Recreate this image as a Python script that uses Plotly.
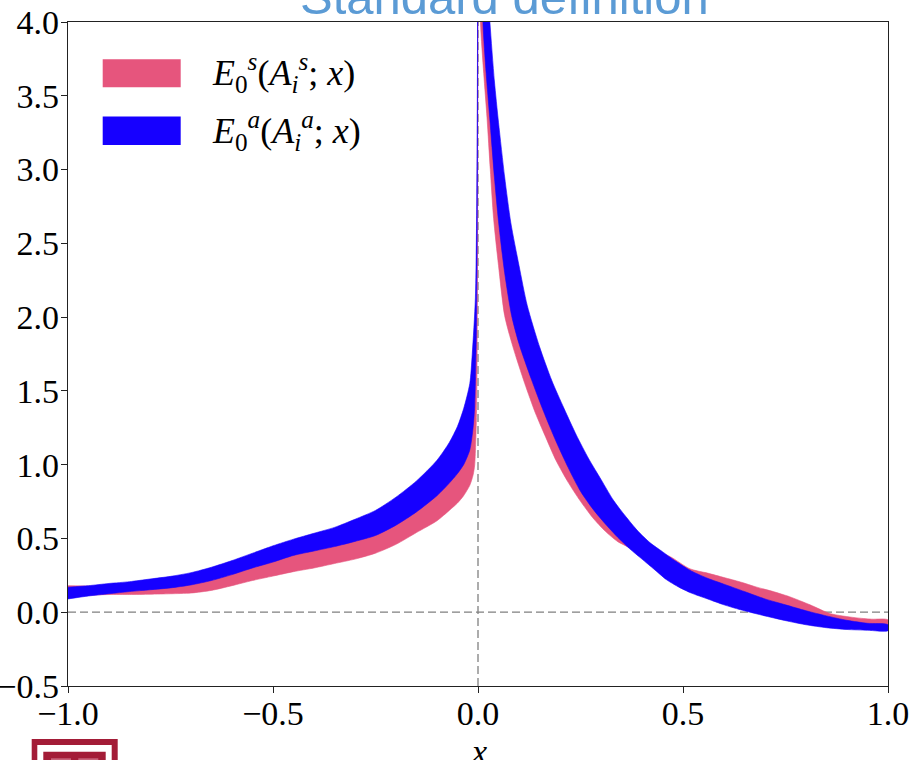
import plotly.graph_objects as go

# ---------------- data ----------------
# E0^s band (pink), x < 0
sym_left_upper_x = [-1.0, -0.95, -0.9, -0.8, -0.7, -0.6, -0.5, -0.4, -0.3, -0.2, -0.1,
                    -0.05, -0.02, -0.008, -0.004, -0.002, -0.0002]
sym_left_upper_y = [0.18, 0.178, 0.17, 0.17, 0.2, 0.27, 0.355, 0.43, 0.5, 0.62, 0.83,
                    1.0, 1.2, 1.55, 2.0, 2.7, 5.5]
sym_left_lower_x = [-1.0, -0.95, -0.9, -0.85, -0.8, -0.75, -0.7, -0.65, -0.6, -0.55, -0.5,
                    -0.45, -0.4, -0.35, -0.3, -0.25, -0.2, -0.15, -0.1, -0.07, -0.05,
                    -0.035, -0.02, -0.012, -0.008, -0.004, -0.002, -0.001, -0.0002]
sym_left_lower_y = [0.11, 0.115, 0.12, 0.12, 0.122, 0.125, 0.13, 0.148, 0.18, 0.215, 0.245,
                    0.275, 0.30, 0.33, 0.36, 0.40, 0.46, 0.54, 0.62, 0.69, 0.74,
                    0.79, 0.86, 0.93, 1.0, 1.3, 1.8, 2.6, 5.0]

# E0^s band (pink), x > 0
sym_right_upper_x = [0.004, 0.02, 0.035, 0.06, 0.1, 0.15, 0.2, 0.25, 0.3, 0.35, 0.4, 0.44,
                     0.47, 0.517, 0.56, 0.6, 0.64, 0.68, 0.72, 0.76, 0.81, 0.86, 0.92,
                     0.96, 1.0]
sym_right_upper_y = [6.0, 4.3, 3.6, 2.95, 2.2, 1.68, 1.32, 1.03, 0.8, 0.6, 0.47, 0.41,
                     0.375, 0.294, 0.265, 0.235, 0.205, 0.17, 0.14, 0.105, 0.05, -0.01, -0.037,
                     -0.047, -0.052]
sym_right_lower_x = [0.004, 0.006, 0.014, 0.022, 0.03, 0.038, 0.05, 0.065, 0.085, 0.114,
                     0.14, 0.163, 0.19, 0.22, 0.248, 0.28, 0.31, 0.34, 0.38, 0.45, 0.52,
                     0.6, 0.68, 0.76, 0.85, 0.93, 1.0]
sym_right_lower_y = [4.7, 4.0, 3.65, 3.35, 3.0, 2.67, 2.35, 2.01, 1.8, 1.55,
                     1.35, 1.2, 1.03, 0.88, 0.76, 0.64, 0.55, 0.48, 0.42, 0.25, 0.15,
                     0.06, 0.0, -0.05, -0.095, -0.105, -0.11]

# E0^a band (blue), x < 0
asym_left_upper_x = [-1.0, -0.95, -0.9, -0.85, -0.8, -0.75, -0.7, -0.65, -0.6, -0.55, -0.5,
                     -0.45, -0.4, -0.35, -0.3, -0.25, -0.2, -0.15, -0.1, -0.07, -0.05,
                     -0.035, -0.02, -0.014, -0.0064, -0.003, -0.0015, -0.0005, -0.0002]
asym_left_upper_y = [0.17, 0.18, 0.195, 0.207, 0.225, 0.243, 0.268, 0.305, 0.35, 0.40, 0.45,
                     0.495, 0.535, 0.575, 0.63, 0.69, 0.78, 0.89, 1.03, 1.15, 1.26,
                     1.38, 1.55, 1.75, 2.13, 2.8, 3.6, 5.0, 7.0]
asym_left_lower_x = [-1.0, -0.95, -0.9, -0.85, -0.8, -0.75, -0.7, -0.65, -0.6, -0.55, -0.5,
                     -0.45, -0.4, -0.35, -0.3, -0.25, -0.2, -0.15, -0.1, -0.07, -0.05,
                     -0.035, -0.02, -0.012, -0.008, -0.004, -0.002, -0.001, -0.0002]
asym_left_lower_y = [0.09, 0.11, 0.125, 0.14, 0.152, 0.165, 0.185, 0.215, 0.255, 0.30, 0.34,
                     0.385, 0.415, 0.445, 0.48, 0.52, 0.59, 0.68, 0.79, 0.875, 0.94,
                     1.0, 1.1, 1.25, 1.4, 1.9, 2.6, 3.5, 6.0]

# E0^a band (blue), x > 0
asym_right_upper_x = [0.01, 0.02, 0.029, 0.04, 0.05, 0.065, 0.08, 0.1, 0.12, 0.15, 0.18,
                      0.21, 0.24, 0.27, 0.3, 0.33, 0.36, 0.39, 0.42, 0.45, 0.48, 0.52,
                      0.56, 0.6, 0.65, 0.7, 0.75, 0.8, 0.85, 0.9, 0.95, 1.0]
asym_right_upper_y = [5.5, 4.4, 4.0, 3.6, 3.32, 2.95, 2.64, 2.35, 2.08, 1.8, 1.57,
                      1.38, 1.2, 1.04, 0.9, 0.76, 0.65, 0.55, 0.47, 0.41, 0.35, 0.28,
                      0.23, 0.19, 0.14, 0.09, 0.05, 0.01, -0.025, -0.055, -0.075, -0.085]
asym_right_lower_x = [0.01, 0.012, 0.02, 0.0286, 0.04, 0.05, 0.065, 0.082, 0.1, 0.13, 0.16,
                      0.19, 0.22, 0.25, 0.28, 0.31, 0.34, 0.37, 0.4, 0.43, 0.46, 0.49,
                      0.52, 0.56, 0.6, 0.64, 0.7, 0.76, 0.8, 0.85, 0.9, 0.95, 1.0]
asym_right_lower_y = [4.6, 4.0, 3.65, 3.35, 2.95, 2.65, 2.3, 2.01, 1.82, 1.58, 1.36,
                      1.16, 0.98, 0.82, 0.7, 0.6, 0.51, 0.43, 0.36, 0.29, 0.22, 0.17,
                      0.13, 0.09, 0.05, 0.017, -0.025, -0.063, -0.085, -0.105, -0.117, -0.122, -0.125]

x_ticks = [-1.0, -0.5, 0.0, 0.5, 1.0]
y_ticks = [-0.5, 0.0, 0.5, 1.0, 1.5, 2.0, 2.5, 3.0, 3.5, 4.0]

label_sym = "<i>E</i><sub>0</sub><sup><i>s</i></sup>(<i>A</i><sub><i>i</i></sub><sup><i>s</i></sup>; <i>x</i>)"
label_asym = "<i>E</i><sub>0</sub><sup><i>a</i></sup>(<i>A</i><sub><i>i</i></sub><sup><i>a</i></sup>; <i>x</i>)"
title_text = "Standard definition"

PINK = "#e6557d"
BLUE = "#1600ff"
MAROON = "#a31c37"
SERIF = "Liberation Serif, DejaVu Serif, serif"

# plot-area geometry in pixels (used for paper-coordinate decorations)
M_L, M_R, M_T, M_B = 68, 27, 22, 74
W, H = 915, 760
PW, PH = W - M_L - M_R, H - M_T - M_B


def px_x(px):
    return (px - M_L) / PW


def px_y(py):
    return (H - M_B - py) / PH


def band(ux, uy, lx, ly):
    """Closed polygon: upper edge left→right, lower edge right→left."""
    return ux + lx[::-1], uy + ly[::-1]


fig = go.Figure()

for ux, uy, lx, ly, color in [
    (sym_left_upper_x, sym_left_upper_y, sym_left_lower_x, sym_left_lower_y, PINK),
    (sym_right_upper_x, sym_right_upper_y, sym_right_lower_x, sym_right_lower_y, PINK),
    (asym_left_upper_x, asym_left_upper_y, asym_left_lower_x, asym_left_lower_y, BLUE),
    (asym_right_upper_x, asym_right_upper_y, asym_right_lower_x, asym_right_lower_y, BLUE),
]:
    bx, by = band(ux, uy, lx, ly)
    fig.add_trace(go.Scatter(
        x=bx, y=by, mode="lines", fill="toself", fillcolor=color,
        line=dict(color=color, width=0.6, shape="spline", smoothing=0.7),
        showlegend=False, hoverinfo="skip",
    ))

# reference lines at x = 0 and y = 0
fig.add_hline(y=0, line=dict(color="#808080", width=1.3, dash="8px,4px"), layer="below")
fig.add_vline(x=0, line=dict(color="#808080", width=1.3, dash="8px,4px"), layer="below")

# legend swatches and labels (upper-left inside the axes)
legend_items = [(PINK, label_sym, 59.3, 87.3), (BLUE, label_asym, 116.5, 145.0)]
for color, text, top, bottom in legend_items:
    fig.add_shape(type="rect", xref="paper", yref="paper",
                  x0=px_x(102.7), x1=px_x(180.7), y0=px_y(bottom), y1=px_y(top),
                  fillcolor=color, line=dict(width=0))
    fig.add_annotation(xref="paper", yref="paper", x=px_x(210), y=px_y((top + bottom) / 2),
                       xanchor="left", yanchor="middle", showarrow=False, text=text,
                       font=dict(family=SERIF, size=36, color="black"))

# title above the frame
fig.add_annotation(xref="paper", yref="paper", x=px_x(504), y=px_y(-3), xanchor="center",
                   yanchor="middle", showarrow=False, text=title_text,
                   font=dict(family="Liberation Sans, Arial, sans-serif", size=49, color="#5b9bd5"))

# x axis label
fig.add_annotation(xref="paper", yref="paper", x=px_x(478.5), y=px_y(752), xanchor="center",
                   yanchor="middle", showarrow=False, text="<i>x</i>",
                   font=dict(family=SERIF, size=34, color="black"))

# logo in the lower-left corner
logo = [((31.7, 117.7), 739.0, MAROON), ((37.3, 111.7), 745.0, "white"),
        ((43.3, 105.7), 751.7, MAROON), ((51.0, 71.0), 758.3, "#c8647a"),
        ((78.3, 98.3), 758.3, "#c8647a")]
for (xa, xb), ytop, color in logo:
    fig.add_shape(type="rect", xref="paper", yref="paper",
                  x0=px_x(xa), x1=px_x(xb), y0=px_y(800), y1=px_y(ytop),
                  fillcolor=color, line=dict(width=0))

axis_common = dict(
    showline=True, mirror=True, linecolor="#222222", linewidth=1.4,
    ticks="outside", ticklen=6, tickwidth=1.3, tickcolor="#222222",
    showgrid=False, zeroline=False, tickformat=".1f", automargin=False,
    tickfont=dict(family=SERIF, size=34, color="black"),
)
fig.update_xaxes(range=[-1, 1], tickvals=x_ticks, ticklabelstandoff=-9, **axis_common)
fig.update_yaxes(range=[-0.5, 4.0], tickvals=y_ticks, ticklabelstandoff=-5, **axis_common)

fig.update_layout(
    width=W, height=H,
    margin=dict(l=M_L, r=M_R, t=M_T, b=M_B, pad=0),
    paper_bgcolor="white", plot_bgcolor="white",
    showlegend=False,
)

fig.write_html("out.html")
